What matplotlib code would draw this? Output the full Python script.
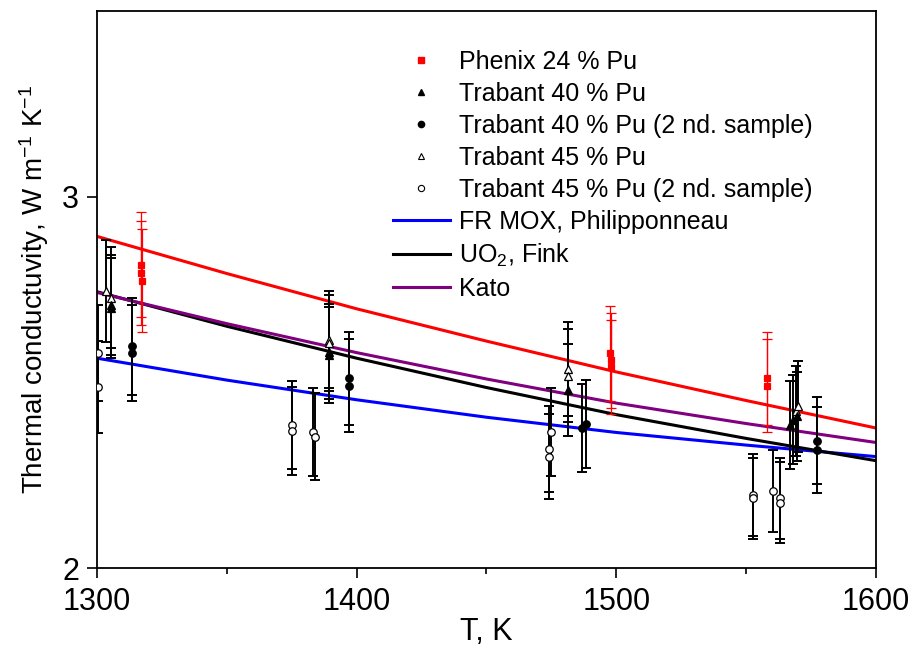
import numpy as np
import matplotlib
matplotlib.use("Agg")
import matplotlib.pyplot as plt
from matplotlib.lines import Line2D

plt.rcParams['font.family'] = ['Liberation Sans', 'DejaVu Sans']
plt.rcParams['mathtext.fontset'] = 'custom'
plt.rcParams['mathtext.rm'] = 'Liberation Sans'
plt.rcParams['mathtext.it'] = 'Liberation Sans:italic'
plt.rcParams['mathtext.bf'] = 'Liberation Sans:bold'

# ---------------- data ----------------
phenix_T = [1316.9, 1316.9, 1317.2, 1497.6, 1497.8, 1498.0, 1558.2, 1558.2]
phenix_k = [2.817, 2.794, 2.774, 2.578, 2.560, 2.541, 2.511, 2.491]

trab40_T = [1305.5, 1305.5, 1389.2, 1389.5, 1481.5, 1567.0, 1568.0, 1569.5]
trab40_k = [2.708, 2.700, 2.583, 2.574, 2.479, 2.385, 2.399, 2.408]

trab40b_T = [1313.3, 1313.3, 1397.2, 1397.2, 1486.8, 1488.2, 1577.1, 1577.1]
trab40b_k = [2.597, 2.579, 2.511, 2.491, 2.377, 2.388, 2.343, 2.318]

trab45_T = [1303.5, 1305.3, 1389.3, 1389.3, 1481.3, 1481.5, 1569.0, 1570.0]
trab45_k = [2.745, 2.728, 2.615, 2.606, 2.535, 2.518, 2.424, 2.435]

trab45b_T = [1300.3, 1300.3, 1375.0, 1375.0, 1383.0, 1383.9, 1474.7, 1474.2,
             1474.0, 1552.5, 1552.5, 1560.4, 1563.0, 1563.0]
trab45b_k = [2.580, 2.488, 2.385, 2.370, 2.367, 2.354, 2.367, 2.321,
             2.300, 2.197, 2.188, 2.208, 2.188, 2.176]

REL_ERR = 0.05  # relative uncertainty of measurements

line_T = [1300, 1350, 1400, 1450, 1500, 1550, 1600]
phenix_fit_k = [2.893, 2.793, 2.698, 2.611, 2.528, 2.451, 2.377]
mox_k = [2.565, 2.506, 2.453, 2.406, 2.365, 2.331, 2.300]
fink_k = [2.744, 2.651, 2.565, 2.486, 2.413, 2.349, 2.289]
kato_k = [2.742, 2.658, 2.580, 2.509, 2.444, 2.389, 2.338]

labels = ["Phenix 24 % Pu", "Trabant 40 % Pu", "Trabant 40 % Pu (2 nd. sample)",
          "Trabant 45 % Pu", "Trabant 45 % Pu (2 nd. sample)",
          "FR MOX, Philipponneau", "UO$_2$, Fink", "Kato"]

# ---------------- figure ----------------
fig = plt.figure(figsize=(9.12, 6.55), dpi=100)
ax = fig.add_axes([97/912, 1-568/655, (876-97)/912, (568-11)/655])

lw = 2.2
ax.plot(line_T, phenix_fit_k, color='#ff0000', lw=lw, zorder=2)
ax.plot(line_T, mox_k, color='#0000ff', lw=lw, zorder=2)
ax.plot(line_T, fink_k, color='#000000', lw=lw, zorder=2)
ax.plot(line_T, kato_k, color='#800080', lw=lw, zorder=2)

def eb(T, k, color, marker, mfc, ms, elw):
    k = np.asarray(k)
    ax.errorbar(T, k, yerr=REL_ERR * k, fmt='none', ecolor=color,
                elinewidth=elw, capsize=3.8, capthick=elw, zorder=3)
    ax.plot(T, k, linestyle='none', marker=marker, mfc=mfc, mec=color,
            ms=ms, mew=0.9, zorder=4)

eb(trab45b_T, trab45b_k, 'black', 'o', 'white', 5.4, 1.4)
eb(trab40b_T, trab40b_k, 'black', 'o', 'black', 5.4, 1.4)
eb(trab45_T, trab45_k, 'black', '^', 'white', 5.8, 1.4)
eb(trab40_T, trab40_k, 'black', '^', 'black', 5.8, 1.4)
eb(phenix_T, phenix_k, '#ff0000', 's', '#ff0000', 4.8, 0.9)

ax.set_xlim(1300, 1600)
ax.set_ylim(2, 3.5)
ax.set_xticks([1300, 1400, 1500, 1600])
ax.set_xticks([1350, 1450, 1550], minor=True)
ax.set_yticks([2, 3])
ax.set_yticklabels(['2', '3'])
ax.tick_params(axis='both', which='major', direction='out', length=7, width=1.2,
               labelsize=22)
ax.tick_params(axis='x', which='major', pad=7)
ax.tick_params(axis='y', which='major', pad=6)
ax.tick_params(axis='x', which='minor', direction='out', length=4, width=1.2)
ax.tick_params(axis='y', which='minor', left=False)
for s in ax.spines.values():
    s.set_linewidth(1.3)

ax.set_xlabel('T, K', fontsize=22, labelpad=0)
ax.set_ylabel('Thermal conductuvity, W m$^{-1}$ K$^{-1}$', fontsize=20, labelpad=8)

handles = [
    Line2D([], [], ls='none', marker='s', color='#ff0000', ms=4),
    Line2D([], [], ls='none', marker='^', color='black', ms=4.5),
    Line2D([], [], ls='none', marker='o', color='black', ms=4.5),
    Line2D([], [], ls='none', marker='^', mfc='white', mec='black', ms=4.5, mew=0.8),
    Line2D([], [], ls='none', marker='o', mfc='white', mec='black', ms=4.5, mew=0.8),
    Line2D([], [], color='#0000ff', lw=lw),
    Line2D([], [], color='black', lw=lw),
    Line2D([], [], color='#800080', lw=lw),
]
leg = ax.legend(handles, labels, loc='upper left',
                bbox_to_anchor=((393-97)/(876-97), 1-(50-11)/(568-11)),
                frameon=False, fontsize=18, handlelength=2.28, handletextpad=0.36,
                borderpad=0, borderaxespad=0, labelspacing=0.32)

fig.savefig('out.png', dpi=100)
